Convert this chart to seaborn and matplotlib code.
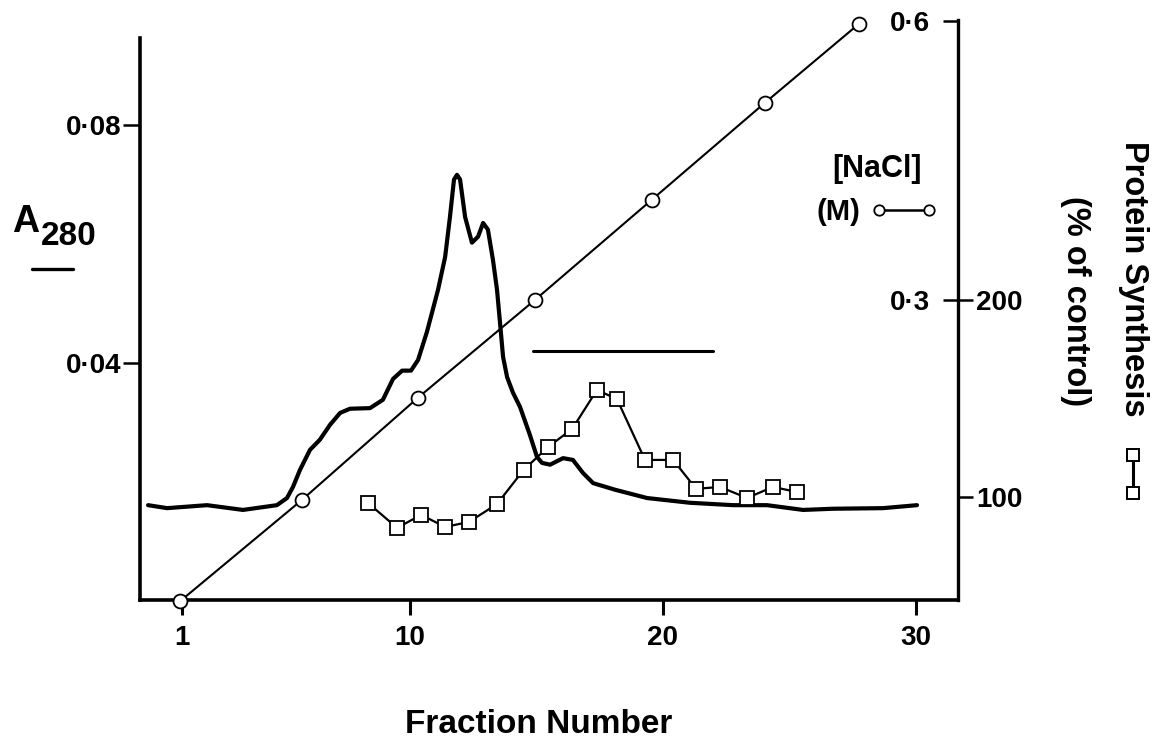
import matplotlib
matplotlib.use("Agg")
import matplotlib.pyplot as plt
from matplotlib.lines import Line2D
import seaborn as sns

# ---------------- data ----------------
# A280 elution profile
a280_fraction = [-0.34, 0.41, 1.99, 3.41, 4.75, 5.15, 5.39, 5.66, 6.06, 6.45,
                 6.85, 7.25, 7.64, 8.43, 8.94, 9.34, 9.70, 10.05, 10.33, 10.68,
                 11.12, 11.40, 11.59, 11.75, 11.87, 11.99, 12.19, 12.46, 12.70, 12.90,
                 13.09, 13.29, 13.45, 13.57, 13.69, 13.85, 14.08, 14.36, 14.75, 15.03,
                 15.23, 15.55, 16.06, 16.45, 16.85, 17.25, 18.11, 19.38, 21.08, 22.78,
                 24.12, 25.55, 26.73, 28.71, 30.05]
a280_value = [0.0161, 0.0156, 0.0161, 0.0153, 0.0161, 0.0173, 0.0192, 0.0220, 0.0254, 0.0271,
              0.0296, 0.0316, 0.0323, 0.0324, 0.0338, 0.0373, 0.0387, 0.0387, 0.0405, 0.0452,
              0.0523, 0.0578, 0.0645, 0.0708, 0.0716, 0.0708, 0.0645, 0.0602, 0.0612, 0.0635,
              0.0624, 0.0573, 0.0523, 0.0467, 0.0410, 0.0376, 0.0350, 0.0326, 0.0279, 0.0242,
              0.0232, 0.0229, 0.0240, 0.0237, 0.0215, 0.0198, 0.0187, 0.0173, 0.0165, 0.0161,
              0.0161, 0.0153, 0.0155, 0.0156, 0.0161]

# NaCl gradient (M)
nacl_fraction = [0.92, 5.74, 10.33, 14.95, 19.58, 24.04, 27.76]
nacl_molar = [-0.024, 0.085, 0.195, 0.300, 0.408, 0.512, 0.597]

# Protein synthesis (% of control)
ps_fraction = [8.35, 9.50, 10.45, 11.40, 12.34, 13.45, 14.50, 15.47, 16.42,
               17.40, 18.19, 19.30, 20.41, 21.32, 22.26, 23.33, 24.36, 25.31]
ps_percent = [97.0, 84.3, 90.9, 84.8, 87.3, 96.4, 113.7, 125.4, 134.5,
              154.3, 149.7, 118.8, 118.8, 104.1, 105.1, 99.5, 105.1, 102.5]

# pooled-fraction bar
pool_fraction = [14.87, 21.99]
pool_level = [174.1, 174.1]

x_ticks = [1, 10, 20, 30]
x_ticklabels = ["1", "10", "20", "30"]
a280_ticks = [0.04, 0.08]
a280_ticklabels = ["0\u00b704", "0\u00b708"]
nacl_ticks = [0.3, 0.6]
nacl_ticklabels = ["0\u00b73", "0\u00b76"]
ps_ticks = [100, 200]
ps_ticklabels = ["100", "200"]

# ---------------- figure ----------------
sns.set_style("white")
plt.rcParams["font.family"] = ["Liberation Sans", "DejaVu Sans"]
plt.rcParams["font.weight"] = "bold"
for key in ("text.color", "axes.labelcolor", "xtick.color", "ytick.color", "axes.edgecolor"):
    plt.rcParams[key] = "black"

W, H = 1154, 740
fig = plt.figure(figsize=(W / 100, H / 100), dpi=100)
fig.patch.set_facecolor("white")

def fx(px):
    return px / W

def fy(py):
    return 1 - py / H

ax = fig.add_axes([fx(140), fy(600), (958 - 140) / W, 580 / H])
ax2 = ax.twinx()
ax3 = ax.twinx()
for a in (ax, ax2, ax3):
    a.set_xlim(-0.66, 31.67)
    a.patch.set_visible(False)
    a.grid(False)

ax.set_ylim(0.00017, 0.0976)
ax2.set_ylim(-0.0226, 0.601)
ax3.set_ylim(47.7, 342.1)

# A280 trace
sns.lineplot(x=a280_fraction, y=a280_value, ax=ax, color="black", linewidth=3.0,
             estimator=None, sort=False, solid_joinstyle="round", solid_capstyle="round")

# NaCl gradient
sns.lineplot(x=nacl_fraction, y=nacl_molar, ax=ax2, color="black", linewidth=1.5,
             estimator=None, sort=False, marker="o", markersize=10,
             markerfacecolor="white", markeredgecolor="black", markeredgewidth=1.3,
             clip_on=False)

# Protein synthesis
sns.lineplot(x=ps_fraction, y=ps_percent, ax=ax3, color="black", linewidth=1.6,
             estimator=None, sort=False, marker="s", markersize=10,
             markerfacecolor="white", markeredgecolor="black", markeredgewidth=1.3,
             clip_on=False)
sns.lineplot(x=pool_fraction, y=pool_level, ax=ax3, color="black", linewidth=2.2,
             estimator=None, sort=False)

# ---------------- spines ----------------
for a in (ax, ax2, ax3):
    for s in a.spines.values():
        s.set_visible(False)
ax.spines["left"].set_visible(True)
ax.spines["bottom"].set_visible(True)
ax.spines["left"].set_linewidth(2.6)
ax.spines["bottom"].set_linewidth(2.6)
ax.spines["left"].set_color("black")
ax.spines["bottom"].set_color("black")
ax.spines["left"].set_bounds(0.00017, 0.0946)
ax2.spines["right"].set_visible(True)
ax2.spines["right"].set_linewidth(2.4)
ax2.spines["right"].set_color("black")

# ---------------- ticks ----------------
ax.set_xticks(x_ticks)
ax.set_xticklabels(x_ticklabels)
ax.tick_params(axis="x", direction="out", length=11, width=2.2, pad=7,
               labelsize=20, bottom=True, colors="black")
ax.set_yticks(a280_ticks)
ax.set_yticklabels(a280_ticklabels)
ax.tick_params(axis="y", direction="out", length=12, width=1.8, pad=1.5,
               labelsize=20, left=True, right=False, colors="black")

ax2.set_yticks(nacl_ticks)
ax2.set_yticklabels(nacl_ticklabels)
ax2.tick_params(axis="y", direction="in", length=11, width=1.8, pad=-20,
                labelsize=20, right=True, left=False, colors="black")
for lab in ax2.get_yticklabels():
    lab.set_horizontalalignment("right")

ax3.set_yticks(ps_ticks)
ax3.set_yticklabels(ps_ticklabels)
ax3.tick_params(axis="y", direction="out", length=11, width=1.8, pad=2,
                labelsize=20, right=True, left=False, colors="black")
for a in (ax2, ax3):
    a.set_ylabel("")
    a.tick_params(axis="x", bottom=False, labelbottom=False)
ax.set_xlabel("")
ax.set_ylabel("")

# ---------------- labels ----------------
fig.text(fx(539), fy(733), "Fraction Number", ha="center", va="baseline",
         fontsize=24, fontweight="bold", color="black")
fig.text(fx(12), fy(232), "A", ha="left", va="baseline", fontsize=27,
         fontweight="bold", color="black")
fig.text(fx(41), fy(245), "280", ha="left", va="baseline", fontsize=24,
         fontweight="bold", color="black")
fig.add_artist(Line2D([fx(32), fx(73)], [fy(269), fy(269)], transform=fig.transFigure,
                      color="black", linewidth=2.4))

fig.text(fx(1133), fy(279), "Protein Synthesis", rotation=270, ha="center", va="center",
         fontsize=23.5, fontweight="bold", color="black")
fig.text(fx(1075), fy(301), "(% of control)", rotation=270, ha="center", va="center",
         fontsize=23.5, fontweight="bold", color="black")
fig.add_artist(Line2D([fx(1133), fx(1133)], [fy(455), fy(493)], transform=fig.transFigure,
                      color="black", linewidth=2.2, marker="s", markersize=8.5,
                      markerfacecolor="white", markeredgecolor="black", markeredgewidth=1.4))

# NaCl legend
handle = Line2D([], [], color="black", linewidth=1.8, marker="o", markersize=7.5,
                markerfacecolor="white", markeredgecolor="black", markeredgewidth=1.3)
leg = ax2.legend([handle], ["(M)"], title="[NaCl]", markerfirst=False, numpoints=2,
                 frameon=False, handlelength=2.3, handletextpad=0.35, borderpad=0,
                 prop={"size": 21, "weight": "bold"},
                 title_fontproperties={"size": 22, "weight": "bold"},
                 loc="center", bbox_to_anchor=(fx(877), fy(190)),
                 bbox_transform=fig.transFigure)
leg.get_title().set_horizontalalignment("center")
leg.get_title().set_color("black")
for t in leg.get_texts():
    t.set_color("black")

fig.savefig("out.png", dpi=100, facecolor="white")
